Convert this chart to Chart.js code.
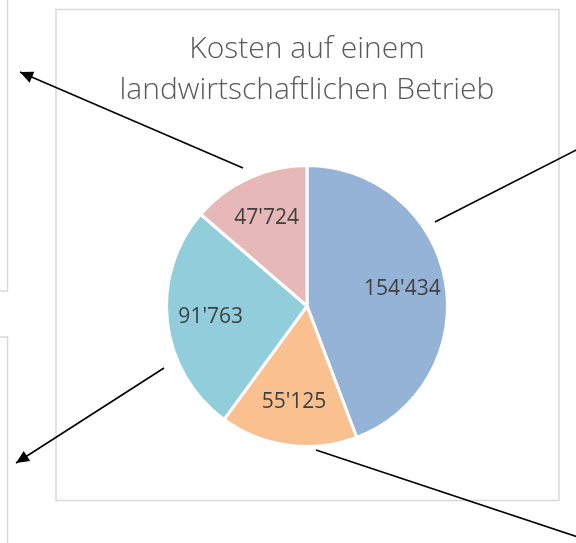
<!DOCTYPE html>
<html>
<head>
<meta charset="utf-8">
<script src="https://cdn.jsdelivr.net/npm/chart.js@4.4.0/dist/chart.umd.min.js"></script>
<style>
  html, body { margin: 0; padding: 0; background: #fff; }
  #wrap { width: 576px; height: 543px; position: relative; }
</style>
</head>
<body>
<div id="wrap"><canvas id="pieChart" width="576" height="543"></canvas></div>
<script>
// data
const titleLines = ['Kosten auf einem', 'landwirtschaftlichen Betrieb'];
const categories = ['Posten 1', 'Posten 2', 'Posten 3', 'Posten 4'];
const costs = [154434, 55125, 91763, 47724];
const sliceColors = ['#95b3d7', '#fac090', '#92cddc', '#e6b9b8'];

function swissNumber(v) {
    return v.toString().replace(/\B(?=(\d{3})+(?!\d))/g, "'");
}

function arrow(ctx, x1, y1, x2, y2, head) {
    ctx.beginPath();
    ctx.moveTo(x1, y1);
    ctx.lineTo(x2, y2);
    ctx.stroke();
    if (!head) return;
    const a = Math.atan2(y2 - y1, x2 - x1);
    const len = 13, w = 6;
    ctx.beginPath();
    ctx.moveTo(x2, y2);
    ctx.lineTo(x2 - len * Math.cos(a) + w * Math.sin(a), y2 - len * Math.sin(a) - w * Math.cos(a));
    ctx.lineTo(x2 - len * Math.cos(a) - w * Math.sin(a), y2 - len * Math.sin(a) + w * Math.cos(a));
    ctx.closePath();
    ctx.fill();
}

// frames around the chart and neighbouring boxes
const framePlugin = {
    id: 'frames',
    beforeDraw(chart) {
        const ctx = chart.ctx;
        ctx.save();
        ctx.strokeStyle = '#d9d9d9';
        ctx.lineWidth = 1.5;
        ctx.strokeRect(56, 9.5, 503, 491);
        ctx.beginPath();
        ctx.moveTo(-5, 291);
        ctx.lineTo(7.5, 291);
        ctx.lineTo(7.5, -5);
        ctx.moveTo(-5, 337);
        ctx.lineTo(7.5, 337);
        ctx.lineTo(7.5, 550);
        ctx.stroke();
        ctx.restore();
    },
    afterDraw(chart) {
        const ctx = chart.ctx;
        ctx.save();
        ctx.strokeStyle = '#000';
        ctx.fillStyle = '#000';
        ctx.lineWidth = 1.6;
        arrow(ctx, 243, 168, 20, 72, true);
        arrow(ctx, 164, 368, 16, 463, true);
        arrow(ctx, 435, 222, 590, 143, false);
        arrow(ctx, 316, 450, 590, 541, false);
        ctx.restore();
    }
};

// value labels inside the slices
const labelPlugin = {
    id: 'sliceLabels',
    afterDatasetsDraw(chart) {
        const ctx = chart.ctx;
        const meta = chart.getDatasetMeta(0);
        ctx.save();
        ctx.font = '21px "Open Sans"';
        ctx.fillStyle = '#404040';
        ctx.textAlign = 'center';
        ctx.textBaseline = 'middle';
        meta.data.forEach(function (arc, i) {
            const p = arc.getProps(['x', 'y', 'startAngle', 'endAngle', 'outerRadius']);
            const mid = (p.startAngle + p.endAngle) / 2;
            const r = p.outerRadius * 0.69;
            ctx.fillText(swissNumber(costs[i]), p.x + Math.cos(mid) * r, p.y + Math.sin(mid) * r);
        });
        ctx.restore();
    }
};

var ctx = document.getElementById('pieChart').getContext('2d');
var pieChart = new Chart(ctx, {
    type: 'pie',
    data: {
        labels: categories,
        datasets: [{
            data: costs,
            backgroundColor: sliceColors,
            borderColor: '#ffffff',
            borderWidth: 3
        }]
    },
    options: {
        responsive: false,
        animation: false,
        layout: {
            padding: { left: 38, right: 0, top: 0, bottom: 95 }
        },
        plugins: {
            legend: { display: false },
            tooltip: { enabled: false },
            title: {
                display: true,
                text: titleLines,
                color: '#595959',
                font: { family: '"Open Sans"', size: 30, weight: '300', lineHeight: 1.367 },
                padding: { top: 29, bottom: 53 }
            }
        }
    },
    plugins: [framePlugin, labelPlugin]
});
</script>
</body>
</html>
